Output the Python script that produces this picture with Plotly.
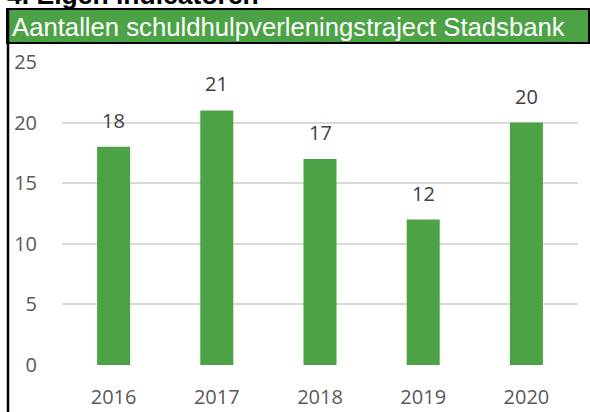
import plotly.graph_objects as go

years = ["2016", "2017", "2018", "2019", "2020"]
counts = [18, 21, 17, 12, 20]
y_ticks = [0, 5, 10, 15, 20, 25]
chart_title = "Aantallen schuldhulpverleningstraject Stadsbank"
section_title = "4. Eigen indicatoren"

GREEN = "#4CA346"
W, H = 590, 412
L, R, T, B = 62, 12, 62, 47
pw, ph = W - L - R, H - T - B


def px(x):
    return (x - L) / pw


def py(y):
    return (H - B - y) / ph


fig = go.Figure()
fig.add_trace(go.Bar(x=years, y=counts, marker=dict(color=GREEN, line=dict(width=0)),
                     hoverinfo="skip"))

for i, v in enumerate(counts):
    fig.add_annotation(x=i, y=v, text=str(v), showarrow=False, yanchor="bottom",
                       yshift=11, font=dict(family="Open Sans", size=20, color="#404040"))

# title bar
fig.add_shape(type="rect", xref="paper", yref="paper", x0=px(7), x1=px(589), y0=py(43), y1=py(9),
              fillcolor=GREEN, line=dict(color="black", width=2), layer="above")
# left border
fig.add_shape(type="line", xref="paper", yref="paper", x0=px(8), x1=px(8), y0=py(9), y1=py(420),
              line=dict(color="black", width=2.5))
fig.add_annotation(xref="paper", yref="paper", x=px(10), y=py(27), xanchor="left", yanchor="middle",
                   text=chart_title, showarrow=False,
                   font=dict(family="Liberation Sans, Arial", size=25.7, color="white"))
fig.add_annotation(xref="paper", yref="paper", x=px(5), y=py(12), xanchor="left", yanchor="bottom",
                   text="<b>" + section_title + "</b>", showarrow=False,
                   font=dict(family="Liberation Sans, Arial", size=26.5, color="black"))

fig.update_layout(
    width=W, height=H, margin=dict(l=L, r=R, t=T, b=B, autoexpand=False),
    paper_bgcolor="white", plot_bgcolor="white", showlegend=False,
    bargap=0.68,
    xaxis=dict(type="category", showgrid=False, zeroline=False, showline=False, automargin=False,
               ticks="", ticklabelstandoff=18,
               tickfont=dict(family="Open Sans", size=20, color="#595959")),
    yaxis=dict(range=[0, 25], tickvals=y_ticks, showgrid=True, gridcolor="#D9D9D9", gridwidth=1.5,
               zeroline=False, showline=False, ticks="", ticklabelstandoff=24, automargin=False,
               tickfont=dict(family="Open Sans", size=20, color="#595959")),
)

fig.write_html("out.html", config={"displayModeBar": False},
               post_script="document.body.style.margin='0';document.body.style.overflow='hidden';")
